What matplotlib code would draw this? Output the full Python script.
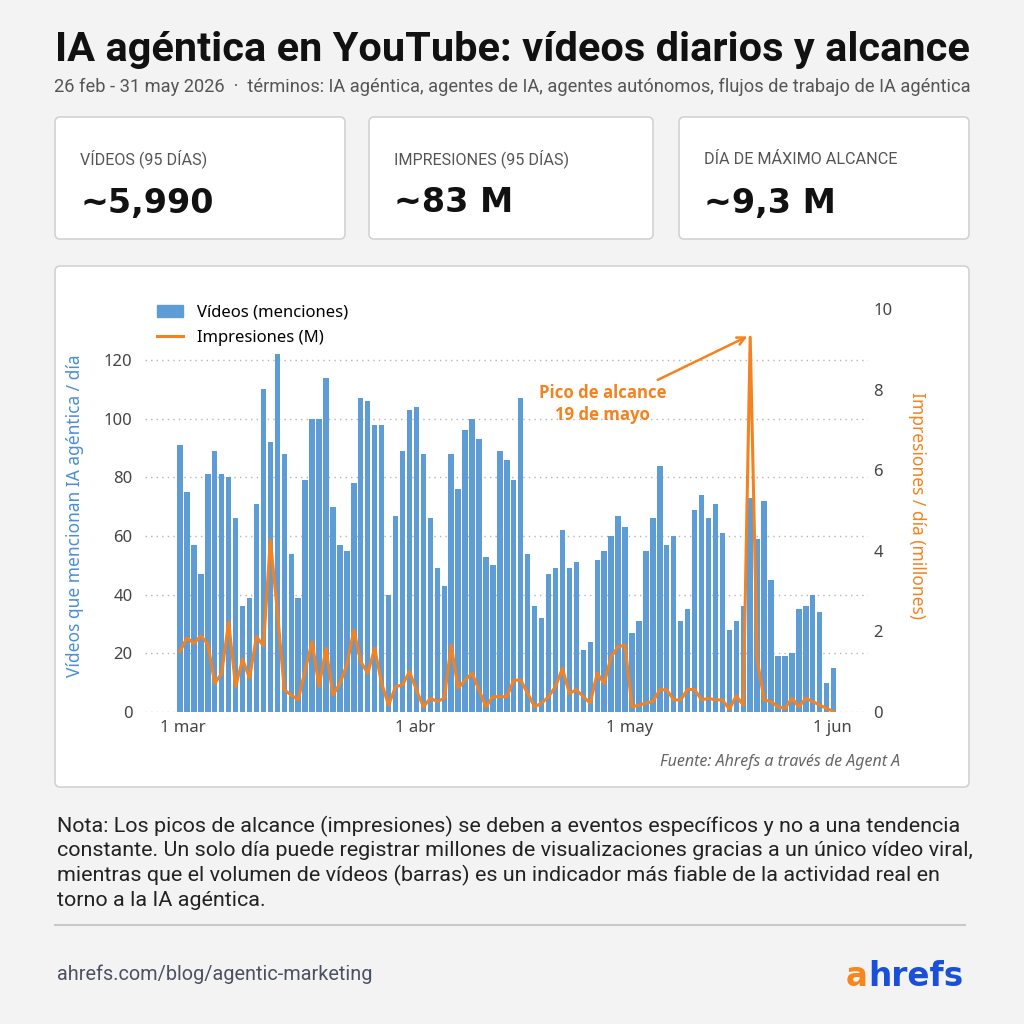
import numpy as np
import pandas as pd
import matplotlib
matplotlib.use("Agg")
import matplotlib.pyplot as plt
from matplotlib.patches import FancyBboxPatch, Patch
from matplotlib.lines import Line2D

# daily data, 26 feb - 31 may 2026 (95 days)
dates = pd.date_range("2026-02-26", periods=95, freq="D")
videos = [91, 75, 57, 47, 81, 89, 81, 80, 66, 36, 39, 71, 110, 92, 122, 88, 54, 39, 79, 100,
          100, 114, 70, 57, 55, 78, 107, 106, 98, 98, 40, 67,
          89, 103, 104, 88, 66, 49, 43, 88, 76, 96, 100, 93, 53, 50, 89, 86, 79, 107,
          54, 36, 32, 47, 49, 62, 49, 51, 21, 24, 52, 55, 60, 67, 63, 27, 31,
          55, 66, 84, 57, 60, 31, 35, 69, 74, 66, 71, 61, 28, 31, 36, 73, 59, 72, 45,
          19, 19, 20, 35, 36, 40, 34, 10, 15]
impressions = [1.50, 1.84, 1.70, 1.89, 1.69, 0.71, 0.96, 2.24, 0.63, 1.31, 0.84, 1.87, 1.64, 4.27,
               2.50, 0.55, 0.42, 0.30, 1.04, 1.74, 0.63, 1.58, 0.42, 0.71, 1.17, 2.03, 1.25, 0.96,
               1.58, 0.71, 0.17, 0.63,
               0.67, 1.00, 0.55, 0.13, 0.34, 0.26, 0.34, 1.66, 0.59, 0.79, 0.96, 0.55, 0.13, 0.38,
               0.38, 0.38, 0.79, 0.79, 0.46, 0.13, 0.22, 0.38, 0.63, 1.08, 0.46, 0.55, 0.38, 0.22,
               0.96, 0.71, 1.37, 1.62, 1.66, 0.13, 0.17,
               0.22, 0.26, 0.55, 0.55, 0.30, 0.30, 0.56, 0.56, 0.30, 0.34, 0.30, 0.30, 0.07, 0.40,
               0.17, 9.30, 1.30, 0.30, 0.26, 0.13, 0.09, 0.34, 0.13, 0.34, 0.26, 0.17, 0.09, 0.01]
tick_labels = ["1 mar", "1 abr", "1 may", "1 jun"]
tick_pos = [0.4, 33.8, 64.7, 93.8]
left_ticks = [0, 20, 40, 60, 80, 100, 120]
right_ticks = [0, 2, 4, 6, 8, 10]

kpi_labels = ["VÍDEOS (95 DÍAS)", "IMPRESIONES (95 DÍAS)", "DÍA DE MÁXIMO ALCANCE"]
kpi_values = ["~5,990", "~83 M", "~9,3 M"]

note_lines = [
    "Nota: Los picos de alcance (impresiones) se deben a eventos específicos y no a una tendencia",
    "constante. Un solo día puede registrar millones de visualizaciones gracias a un único vídeo viral,",
    "mientras que el volumen de vídeos (barras) es un indicador más fiable de la actividad real en",
    "torno a la IA agéntica.",
]

BG = "#f3f3f3"
BLUE = "#5d9cd5"
ORANGE = "#f5821f"
AXIS_BLUE = "#4a8fd6"
GRAY = "#555555"

fig = plt.figure(figsize=(10.24, 10.24), dpi=100, facecolor=BG)
renderer = fig.canvas.get_renderer()


def fx(x):
    return x / 1024


def fy(y):
    return 1 - y / 1024


def fit(t, width_px):
    # scale font so the text spans the wanted width
    w = t.get_window_extent(renderer).width
    t.set_fontsize(t.get_fontsize() * width_px / w)
    return t


def card(x0, y0, x1, y1):
    p = FancyBboxPatch((fx(x0), fy(y1)), fx(x1 - x0), (y1 - y0) / 1024,
                       boxstyle="round,pad=0,rounding_size=0.005",
                       fc="white", ec="#d2d2d2", lw=1.2,
                       transform=fig.transFigure, zorder=0)
    fig.add_artist(p)


# title + subtitle
t = fig.text(0.5, fy(50), "IA agéntica en YouTube: vídeos diarios y alcance",
             ha="center", va="center", fontsize=24, fontweight="bold",
             family="Roboto", color="#111111")
fit(t, 913)
t = fig.text(0.5, fy(87), "26 feb - 31 may 2026  ·  términos: IA agéntica, agentes de IA, "
             "agentes autónomos, flujos de trabajo de IA agéntica",
             ha="center", va="center", fontsize=12, family="Roboto", color=GRAY)
fit(t, 913)

# KPI cards
card_x = [(55, 345), (369, 653), (679, 969)]
for (x0, x1), lab, val in zip(card_x, kpi_labels, kpi_values):
    card(x0, 117, x1, 239)
    fig.text(fx(x0 + 25), fy(159), lab, ha="left", va="center", fontsize=11.6,
             family="Roboto", color=GRAY)
    fig.text(fx(x0 + 25), fy(203), val, ha="left", va="center", fontsize=24,
             fontweight="bold", family="DejaVu Sans", color="#111111")

# chart card
card(55, 266, 969, 787)

ax = fig.add_axes([fx(145), fy(712), fx(868 - 145), (712 - 300) / 1024])
ax.set_zorder(1)
ax.patch.set_visible(False)
x = np.arange(len(videos))
ax.bar(x, videos, width=0.78, color=BLUE, zorder=2)
ax.set_xlim(-5.03, 98.94)
ax.set_ylim(0, 140.5)
ax.set_yticks(left_ticks)
ax.set_xticks(tick_pos)
ax.set_xticklabels(tick_labels)
ax.yaxis.grid(True, linestyle=(0, (1, 3)), color="#b5b5b5", lw=1)
ax.set_axisbelow(True)
for s in ax.spines.values():
    s.set_visible(False)
ax.tick_params(axis="y", length=0, pad=9, labelsize=12, labelcolor="#444444")
ax.tick_params(axis="x", length=0, pad=6, labelsize=12, labelcolor="#444444")
for lbl in ax.get_xticklabels() + ax.get_yticklabels():
    lbl.set_family("Noto Sans")
ax.set_ylabel("Vídeos que mencionan IA agéntica / día", color=AXIS_BLUE,
              fontsize=12.5, family="Noto Sans")
ax.yaxis.set_label_coords(-0.084, 0.476)

ax2 = ax.twinx()
ax2.set_zorder(2)
ax2.patch.set_visible(False)
ax2.plot(x, impressions, color=ORANGE, lw=2.2, zorder=3)
ax2.set_ylim(0, 412 / 40.3)
ax2.set_yticks(right_ticks)
for s in ax2.spines.values():
    s.set_visible(False)
ax2.tick_params(axis="y", length=0, pad=4, labelsize=12, labelcolor="#444444")
for lbl in ax2.get_yticklabels():
    lbl.set_family("Noto Sans")
ax2.set_ylabel("Impresiones / día (millones)", color=ORANGE, fontsize=12.5,
               family="Noto Sans", rotation=270, va="center")
ax2.yaxis.set_label_coords(1.068, 0.5)

# peak annotation
peak = int(np.argmax(impressions))
ax2.annotate("", xy=(peak - 0.4, impressions[peak] + 0.02), xytext=(68.7, 8.24),
             arrowprops=dict(arrowstyle="->", color=ORANGE, lw=1.8,
                             mutation_scale=14, shrinkA=0, shrinkB=0))
at = ax2.text(60.8, 7.64, "Pico de alcance\n19 de mayo", ha="center", va="center",
              color=ORANGE, fontsize=12, fontweight="bold", family="Open Sans",
              linespacing=1.25)
fit(at, 127)

handles = [Patch(color=BLUE, label="Vídeos (menciones)"),
           Line2D([], [], color=ORANGE, lw=2.2, label="Impresiones (M)")]
leg = ax.legend(handles=handles, loc="upper left", frameon=False,
                bbox_to_anchor=(fx(150), fy(298)), bbox_transform=fig.transFigure,
                prop={"family": "Noto Sans", "size": 12}, handlelength=1.6,
                handleheight=0.8, labelspacing=0.55, borderaxespad=0)

fig.text(fx(900), fy(762), "Fuente: Ahrefs a través de Agent A", ha="right",
         va="center", fontsize=11.5, style="italic", family="Noto Sans",
         color="#666666")

# note
nt = []
for i, line in enumerate(note_lines):
    nt.append(fig.text(fx(57), fy(826 + i * 24.7), line, ha="left", va="center",
                       fontsize=14, family="Roboto", color="#222222"))
w = nt[0].get_window_extent(renderer).width
for tt in nt:
    tt.set_fontsize(14 * 908 / w)

fig.add_artist(Line2D([fx(55), fx(965)], [fy(925), fy(925)], color="#c8c8c8",
                      lw=1.5, transform=fig.transFigure))

t = fig.text(fx(57), fy(974), "ahrefs.com/blog/agentic-marketing", ha="left",
             va="center", fontsize=13, family="Roboto", color="#4a5262")
fit(t, 315)

# logo: orange "a" followed by blue "hrefs"
la = fig.text(fx(846), fy(986), "a", ha="left", va="baseline", fontsize=23.5,
              fontweight="bold", family="DejaVu Sans", color="#f7861c")
a_w = la.get_window_extent(renderer).width
fig.text(fx(846 + a_w + 0.5), fy(986), "hrefs", ha="left", va="baseline", fontsize=23.5,
         fontweight="bold", family="DejaVu Sans", color="#1a4fd8")

fig.savefig("out.png", dpi=100, facecolor=BG)
